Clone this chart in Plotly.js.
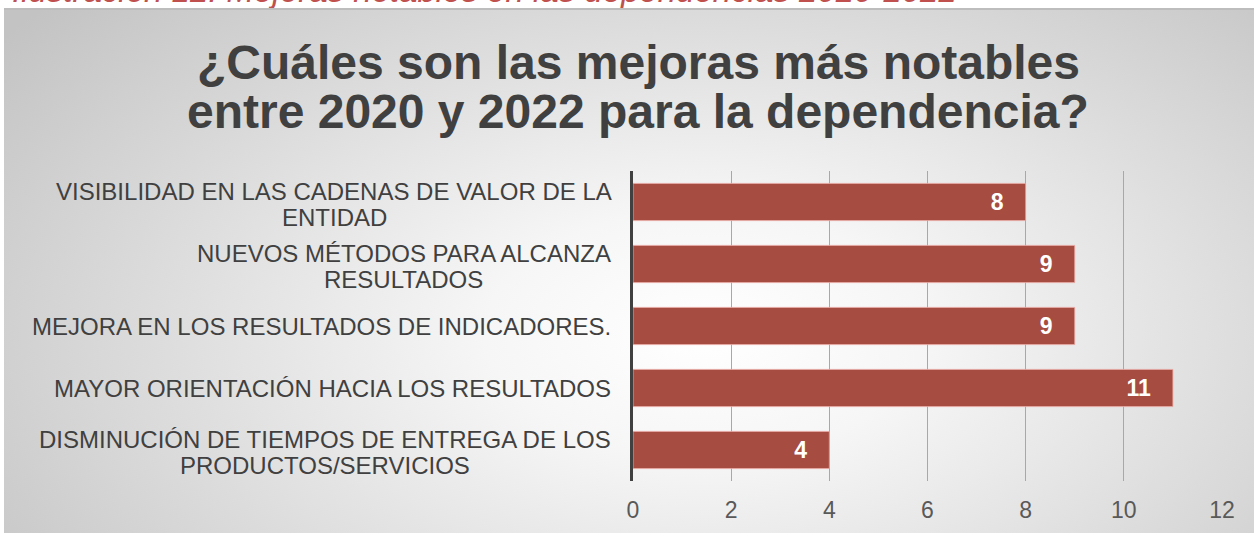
<!DOCTYPE html>
<html><head><meta charset="utf-8">
<script src="https://cdn.plot.ly/plotly-3.0.1.min.js"></script>
<style>
html,body{margin:0;padding:0;background:#fff;overflow:hidden;}
#cap{position:absolute;left:12px;top:-29px;font-family:"Liberation Sans",Arial,sans-serif;font-style:italic;font-size:33px;line-height:40px;color:#c0504d;white-space:nowrap;}
#frame{position:absolute;left:4px;top:8px;width:1250px;height:525px;border-top:2px solid #bdbdbd;box-sizing:border-box;
background:radial-gradient(ellipse 70% 95% at 56% 62%, #ffffff 0%, #f6f6f6 25%, #dedede 60%, #c3c3c3 100%);}
#chart{position:absolute;left:0;top:0;width:1254px;height:533px;}
</style></head>
<body>
<div id="cap">Ilustración 12. Mejoras notables en las dependencias 2020-2022</div>
<div id="frame"></div>
<div id="chart"></div>
<script>
const categories = [
  "VISIBILIDAD EN LAS CADENAS DE VALOR DE LA|ENTIDAD",
  "NUEVOS MÉTODOS PARA ALCANZA|RESULTADOS",
  "MEJORA EN LOS RESULTADOS DE INDICADORES.",
  "MAYOR ORIENTACIÓN HACIA LOS RESULTADOS",
  "DISMINUCIÓN DE TIEMPOS DE ENTREGA DE LOS|PRODUCTOS/SERVICIOS"
];
const values = [8, 9, 9, 11, 4];
const xTicks = [0, 2, 4, 6, 8, 10, 12];
const titleLines = ["¿Cuáles son las mejoras más notables", "entre 2020 y 2022 para la dependencia?"];

const font = '"Liberation Sans", Arial, sans-serif';
const M = {l: 633, r: 32, t: 171, b: 52};
const W = 1254, H = 533;
const pw = W - M.l - M.r, ph = H - M.t - M.b;
const labelSize = 24, labelRight = 612, lineGap = 26;

const canvas = document.createElement('canvas');
const ctx = canvas.getContext('2d');
ctx.font = labelSize + 'px "Liberation Sans", Arial, sans-serif';

const trace = {
  type: 'bar', orientation: 'h',
  x: values, y: categories,
  width: 0.6,
  marker: {color: '#a64c40', line: {color: 'rgba(235,170,165,0.8)', width: 1}},
  texttemplate: '<b>%{x}</b>\u00a0\u00a0\u00a0',
  textposition: 'inside', insidetextanchor: 'end',
  textfont: {family: font, size: 23, color: '#ffffff'},
  hoverinfo: 'none', cliponaxis: false
};

const annotations = [];
categories.forEach(c => {
  const lines = c.split('|');
  const w0 = ctx.measureText(lines[0]).width;
  const cx = labelRight - w0 / 2;
  const n = lines.length;
  lines.forEach((ln, i) => {
    annotations.push({
      xref: 'paper', yref: 'y', x: (cx - M.l) / pw, y: c,
      xanchor: 'center', yanchor: 'middle',
      yshift: ((n - 1) / 2 - i) * lineGap - (n > 1 ? 2 : 0),
      text: ln, showarrow: false,
      font: {family: font, size: labelSize, color: '#404040'}
    });
  });
});
const titleCenters = [62, 112];
titleLines.forEach((t, i) => {
  annotations.push({
    xref: 'paper', yref: 'paper', x: (638 - M.l) / pw, y: (H - M.b - titleCenters[i]) / ph,
    xanchor: 'center', yanchor: 'middle', showarrow: false, text: '<b>' + t + '</b>',
    font: {family: font, size: 48, color: '#404040'}
  });
});

const layout = {
  width: W, height: H,
  paper_bgcolor: 'rgba(0,0,0,0)', plot_bgcolor: 'rgba(0,0,0,0)',
  margin: M,
  xaxis: {range: [0, 12], tickvals: xTicks, showgrid: true, gridcolor: '#a8a8a8', gridwidth: 1,
          zeroline: false, showline: false, ticks: '', ticklabelstandoff: 13,
          tickfont: {family: font, size: 23, color: '#595959'}},
  yaxis: {type: 'category', autorange: 'reversed', showticklabels: false, ticks: '',
          showline: true, linecolor: '#404040', linewidth: 3, showgrid: false, zeroline: false},
  annotations: annotations,
  showlegend: false, bargap: 0.4
};
Plotly.newPlot('chart', [trace], layout, {displayModeBar: false, staticPlot: true});
</script>
</body></html>
